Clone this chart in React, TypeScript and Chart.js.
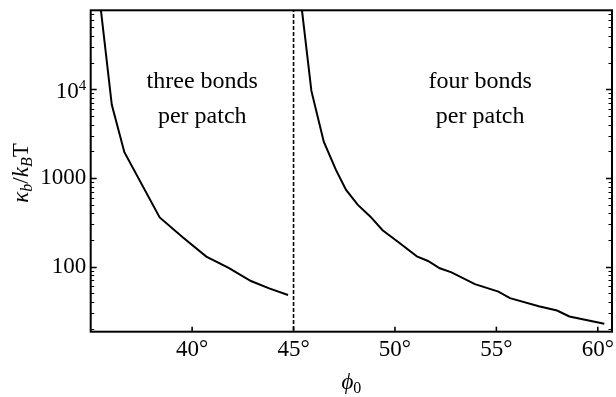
import { useEffect, useRef } from 'react';
import { Chart, registerables } from 'chart.js';

Chart.register(...registerables);

// Bending stiffness κb/kBT versus patch angle φ0 (degrees)
const threeBondAngles = [35.45, 36.04, 36.66, 38.4, 39.55, 40.7, 41.8, 42.9, 43.8, 44.73];
const threeBondStiffness = [100000, 6700, 1960, 360, 213, 130, 97, 69, 57, 48];

const fourBondAngles = [
  45.36, 45.88, 46.49, 47.09, 47.59, 48.17, 48.78, 49.39, 50.16, 51.08,
  51.63, 52.21, 52.79, 53.94, 55.1, 55.67, 57.09, 57.99, 58.6, 60.32,
];
const fourBondStiffness = [
  100000, 9620, 2575, 1236, 735, 498, 369, 258, 190, 131,
  116, 96, 86.3, 63.6, 52.4, 44.2, 35.8, 32.1, 27.5, 22.8,
];

// Vertical dashed boundary between the two regimes
const boundaryAngle = 45;
const boundaryRange = [1, 1000000];

const xRange = [35, 60.7];
const yRange = [18.5, 78000];
const xTickValues = [40, 45, 50, 55, 60];
const yMajorTicks = [100, 1000, 10000];
const yMinorTicks = [
  20, 30, 40, 50, 60, 70, 80, 90,
  200, 300, 400, 500, 600, 700, 800, 900,
  2000, 3000, 4000, 5000, 6000, 7000, 8000, 9000,
  20000, 30000, 40000, 50000, 60000, 70000,
];

// Region annotations: [centre angle, text lines]
const regionLabels: { angle: number; lines: string[] }[] = [
  { angle: 40.5, lines: ['three bonds', 'per patch'] },
  { angle: 54.2, lines: ['four bonds', 'per patch'] },
];

const SERIF = '"Liberation Serif", "DejaVu Serif", serif';

const frameAndTicks = {
  id: 'frameAndTicks',
  afterDatasetsDraw(chart: any) {
    const { ctx, chartArea: a, scales } = chart;
    const y = scales.y;
    const x = scales.x;
    ctx.save();
    ctx.strokeStyle = '#000';
    ctx.lineWidth = 1.2;
    const drawY = (v: number, len: number) => {
      const py = Math.round(y.getPixelForValue(v)) + 0.5;
      ctx.beginPath();
      ctx.moveTo(a.left, py);
      ctx.lineTo(a.left + len, py);
      ctx.moveTo(a.right, py);
      ctx.lineTo(a.right - len, py);
      ctx.stroke();
    };
    yMinorTicks.forEach((v) => drawY(v, 3.5));
    ctx.lineWidth = 1.6;
    yMajorTicks.forEach((v) => drawY(v, 6));
    xTickValues.forEach((v) => {
      const px = x.getPixelForValue(v);
      ctx.beginPath();
      ctx.moveTo(px, a.bottom);
      ctx.lineTo(px, a.bottom - 5);
      ctx.stroke();
    });
    ctx.lineWidth = 2;
    ctx.strokeRect(a.left, a.top, a.right - a.left, a.bottom - a.top);
    ctx.restore();
  },
};

const textLayer = {
  id: 'textLayer',
  afterDraw(chart: any) {
    const { ctx, chartArea: a, scales } = chart;
    const x = scales.x;
    const y = scales.y;
    ctx.save();
    ctx.fillStyle = '#000';
    ctx.textBaseline = 'alphabetic';

    // 10^4 tick label with superscript
    const py4 = y.getPixelForValue(10000);
    ctx.font = `15px ${SERIF}`;
    const supW = ctx.measureText('4').width;
    ctx.textAlign = 'right';
    const rightEdge = a.left - 4.5;
    ctx.fillText('4', rightEdge, py4 + 1);
    ctx.font = `23px ${SERIF}`;
    ctx.fillText('10', rightEdge - supW, py4 + 8.5);

    // Region annotations
    ctx.textAlign = 'center';
    ctx.font = `24px ${SERIF}`;
    regionLabels.forEach((r) => {
      const px = x.getPixelForValue(r.angle);
      const base = y.getPixelForValue(10000) - 1.5;
      r.lines.forEach((line, i) => ctx.fillText(line, px, base + i * 34.7));
    });

    // Rich-text title helper: segments of [text, font, baseline shift]
    const drawRich = (segs: [string, string, number][], cx: number, cy: number) => {
      let total = 0;
      const widths = segs.map(([t, f]) => {
        ctx.font = f;
        const w = ctx.measureText(t).width;
        total += w;
        return w;
      });
      let cur = cx - total / 2;
      ctx.textAlign = 'left';
      segs.forEach(([t, f, dy], i) => {
        ctx.font = f;
        ctx.fillText(t, cur, cy + dy);
        cur += widths[i];
      });
    };

    // x-axis title φ0
    drawRich(
      [
        ['\u03D5', `italic 23px ${SERIF}`, 0],
        ['0', `16px ${SERIF}`, 4],
      ],
      (a.left + a.right) / 2,
      389,
    );

    // y-axis title κb/kBT
    ctx.save();
    ctx.translate(28, (a.top + a.bottom) / 2 + 2);
    ctx.rotate(-Math.PI / 2);
    drawRich(
      [
        ['\u03BA', `italic 23px ${SERIF}`, 0],
        ['b', `italic 16px ${SERIF}`, 4],
        ['/', `23px ${SERIF}`, 0],
        ['k', `italic 23px ${SERIF}`, 0],
        ['B', `italic 16px ${SERIF}`, 4],
        ['T', `23px ${SERIF}`, 0],
      ],
      0,
      0,
    );
    ctx.restore();
    ctx.restore();
  },
};

export default function App() {
  const ref = useRef<HTMLCanvasElement>(null);

  useEffect(() => {
    const canvas = ref.current;
    if (!canvas) return;
    const line = { borderColor: '#000', pointRadius: 0, tension: 0, fill: false };
    const chart = new Chart(canvas, {
      type: 'line',
      data: {
        datasets: [
          {
            ...line,
            label: 'three bonds per patch',
            borderWidth: 2,
            data: threeBondAngles.map((v, i) => ({ x: v, y: threeBondStiffness[i] })),
          },
          {
            ...line,
            label: 'four bonds per patch',
            borderWidth: 2,
            data: fourBondAngles.map((v, i) => ({ x: v, y: fourBondStiffness[i] })),
          },
          {
            ...line,
            label: 'boundary',
            borderWidth: 1.6,
            borderDash: [4, 2],
            data: boundaryRange.map((v) => ({ x: boundaryAngle, y: v })),
          },
        ],
      },
      options: {
        responsive: false,
        animation: false,
        devicePixelRatio: 1,
        layout: { padding: { top: 10.3, right: 4, left: 0, bottom: 0 } },
        plugins: { legend: { display: false }, tooltip: { enabled: false } },
        scales: {
          x: {
            type: 'linear',
            min: xRange[0],
            max: xRange[1],
            grid: { display: false, drawTicks: false },
            border: { display: false },
            afterBuildTicks: (s: any) => {
              s.ticks = xTickValues.map((v) => ({ value: v }));
            },
            afterFit: (s: any) => {
              s.height = 397 - 331.7;
              s.paddingLeft = 0;
              s.paddingRight = 0;
            },
            ticks: {
              padding: 4,
              color: '#000',
              maxRotation: 0,
              autoSkip: false,
              font: { family: SERIF, size: 23, lineHeight: 1.2 },
              callback: (v: any) => `${v}°`,
            },
          },
          y: {
            type: 'logarithmic',
            min: yRange[0],
            max: yRange[1],
            grid: { display: false, drawTicks: false },
            border: { display: false },
            afterBuildTicks: (s: any) => {
              s.ticks = yMajorTicks.map((v) => ({ value: v }));
            },
            afterFit: (s: any) => {
              s.width = 90.7;
              s.paddingTop = 0;
              s.paddingBottom = 0;
            },
            ticks: {
              padding: 4.5,
              color: '#000',
              autoSkip: false,
              font: { family: SERIF, size: 23 },
              callback: (v: any) => (Number(v) === 10000 ? '' : String(v)),
            },
          },
        },
      },
      plugins: [frameAndTicks, textLayer],
    });
    return () => chart.destroy();
  }, []);

  return (
    <div style={{ position: 'fixed', left: 0, top: 0, width: 616, height: 397, background: '#fff' }}>
      <canvas ref={ref} width={616} height={397} />
    </div>
  );
}
